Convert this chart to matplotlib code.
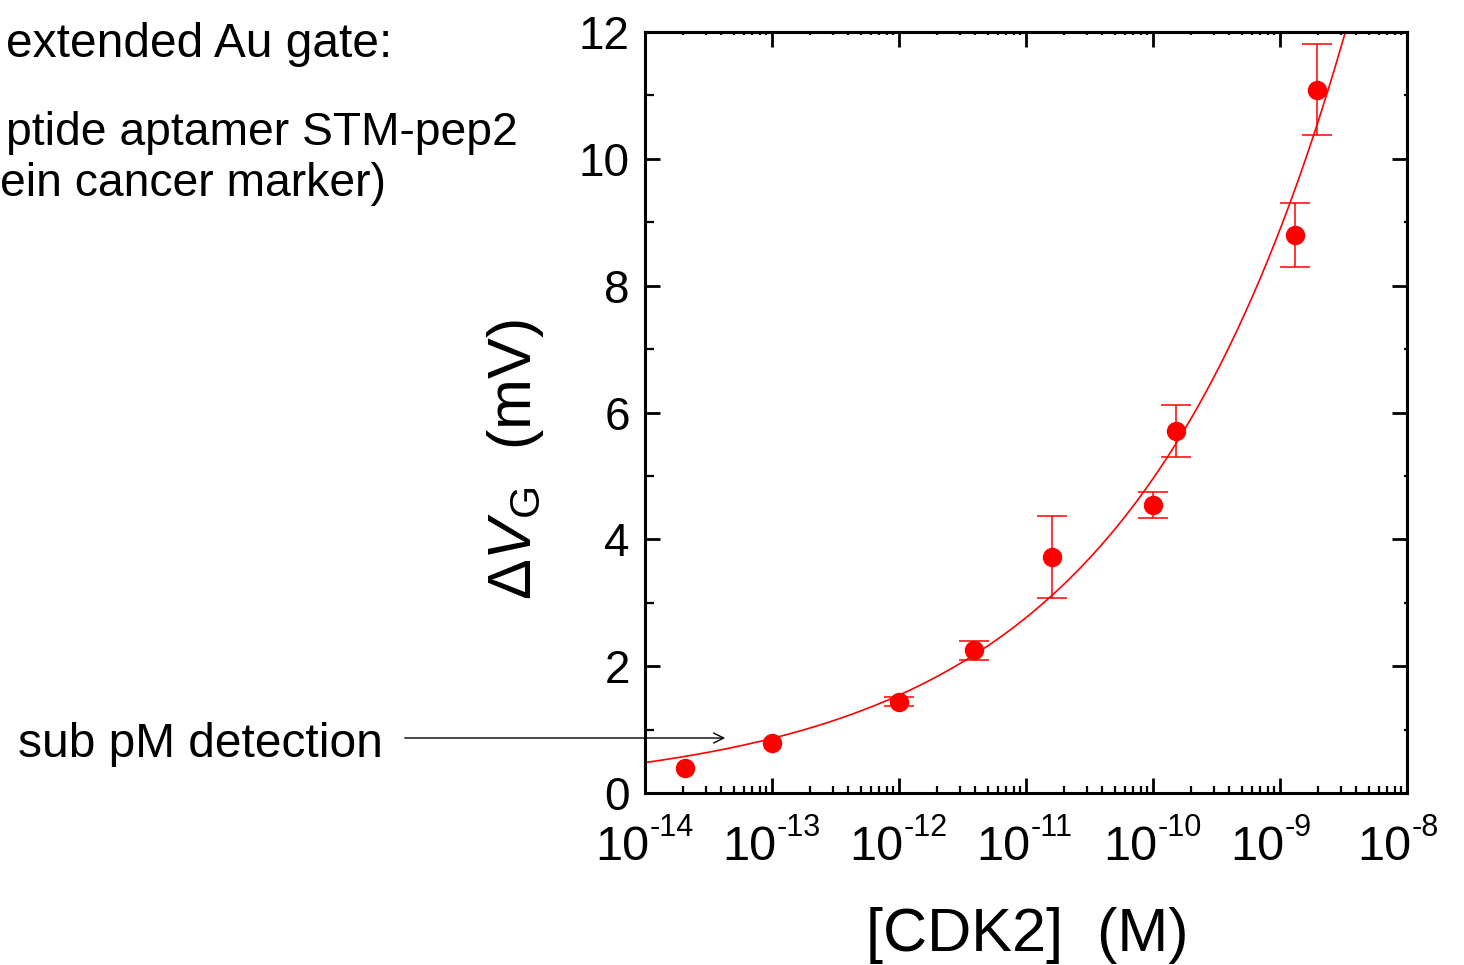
import numpy as np
import matplotlib
matplotlib.use("Agg")
import matplotlib.pyplot as plt
import matplotlib.transforms as mtrans
from matplotlib.ticker import FixedLocator, MultipleLocator, LogLocator, NullFormatter

plt.rcParams["font.family"] = ["Liberation Sans", "DejaVu Sans"]
plt.rcParams["mathtext.fontset"] = "custom"
plt.rcParams["mathtext.rm"] = "Liberation Sans"
plt.rcParams["mathtext.it"] = "Liberation Sans:italic"
plt.rcParams["mathtext.bf"] = "Liberation Sans:bold"

# measured points: [CDK2] (M), delta V_G (mV), error (mV)
conc = np.array([2.07e-14, 1.0e-13, 1.0e-12, 3.9e-12, 1.6e-11, 1.0e-10, 1.52e-10, 1.31e-9, 1.94e-9])
dvg = np.array([0.39, 0.79, 1.44, 2.25, 3.72, 4.54, 5.71, 8.80, 11.09])
dvg_err = np.array([0.0, 0.0, 0.075, 0.15, 0.65, 0.21, 0.41, 0.50, 0.72])

# power-law fit
fit_a = 0.48      # mV at 1e-14 M
fit_n = 0.2535
fit_x0 = 1e-14

xtick_exp = [-14, -13, -12, -11, -10, -9, -8]
ytick_pos = [0, 2, 4, 6, 8, 10, 12]

W, H = 1464, 965
fig = plt.figure(figsize=(W / 100, H / 100), dpi=100)
ax = fig.add_axes([645 / W, 1 - 793 / H, (1407 - 645) / W, (793 - 32) / H])

xf = np.logspace(-14, -8, 600)
ax.plot(xf, fit_a * (xf / fit_x0) ** fit_n, color="red", lw=1.2, zorder=2)

has_err = dvg_err > 0
ax.errorbar(conc[has_err], dvg[has_err], yerr=dvg_err[has_err], fmt="none",
            ecolor="red", elinewidth=1.1, capsize=11, capthick=1.1, zorder=3)
ax.plot(conc, dvg, "o", color="red", ms=13, mec="red", zorder=4)

ax.set_xscale("log")
ax.set_xlim(1e-14, 1e-8)
ax.set_ylim(0, 12)

xtick_pos = [10.0 ** e for e in xtick_exp]
ax.xaxis.set_major_locator(FixedLocator(xtick_pos))
ax.xaxis.set_major_formatter(NullFormatter())
ax.xaxis.set_minor_locator(LogLocator(base=10, subs=np.arange(2, 10), numticks=20))
ax.xaxis.set_minor_formatter(NullFormatter())
ax.yaxis.set_major_locator(FixedLocator(ytick_pos))
ax.yaxis.set_minor_locator(MultipleLocator(1))

for sp in ax.spines.values():
    sp.set_linewidth(2.2)

ax.tick_params(which="both", direction="in", top=False, right=False, labelsize=33, width=2)
ax.tick_params(axis="x", which="major", length=11)
ax.tick_params(axis="x", which="minor", length=5, width=1.6)
ax.tick_params(axis="y", which="major", length=11, pad=11)
ax.tick_params(axis="y", which="minor", length=6.5, width=1.6)

# x tick labels as 10 with a small raised exponent
blend = mtrans.blended_transform_factory(ax.transData, ax.transAxes)
base_tr = blend + mtrans.ScaledTranslation(4 / 100, -67 / 100, fig.dpi_scale_trans)
sup_tr = blend + mtrans.ScaledTranslation(5 / 100, -43 / 100, fig.dpi_scale_trans)
for xp, e in zip(xtick_pos, xtick_exp):
    ax.text(xp, 0, "10", transform=base_tr, fontsize=35, ha="right", va="baseline", clip_on=False)
    ax.text(xp, 0, str(e), transform=sup_tr, fontsize=22, ha="left", va="baseline", clip_on=False)

secx = ax.secondary_xaxis("top")
secx.xaxis.set_major_locator(FixedLocator(xtick_pos))
secx.xaxis.set_minor_locator(LogLocator(base=10, subs=np.arange(2, 10), numticks=20))
secx.xaxis.set_major_formatter(NullFormatter())
secx.xaxis.set_minor_formatter(NullFormatter())
secx.tick_params(which="both", direction="in", width=2)
secx.tick_params(which="major", length=11)
secx.tick_params(which="minor", length=2.2, width=1.6)
secx.spines["top"].set_linewidth(2.2)

secy = ax.secondary_yaxis("right")
secy.yaxis.set_major_locator(FixedLocator(ytick_pos))
secy.yaxis.set_minor_locator(MultipleLocator(1))
secy.yaxis.set_major_formatter(NullFormatter())
secy.tick_params(which="both", direction="in", width=2)
secy.tick_params(which="major", length=11)
secy.tick_params(which="minor", length=2.2, width=1.6)
secy.spines["right"].set_linewidth(2.2)

fig.text(1027 / W, 1 - 951 / H, "[CDK2]  (M)", fontsize=44, ha="center", va="baseline")
fig.text(515 / W, 1 - 460 / H, r"$\Delta \mathit{V}_{\mathrm{G}}$  (mV)", fontsize=44,
         rotation=90, ha="center", va="center")

fig.text(392 / W, 1 - 57 / H, "extended Au gate:", fontsize=34.5, ha="right", va="baseline")
fig.text(518 / W, 1 - 145 / H, "ptide aptamer STM-pep2", fontsize=33.3, ha="right", va="baseline")
fig.text(386 / W, 1 - 196 / H, "ein cancer marker)", fontsize=33.3, ha="right", va="baseline")
fig.text(18 / W, 1 - 757 / H, "sub pM detection", fontsize=34.5, ha="left", va="baseline")

ax.annotate("", xy=(4.5e-14, 0.867), xycoords="data",
            xytext=(402 / W, 1 - 738 / H), textcoords="figure fraction",
            arrowprops=dict(arrowstyle="->", color="black", lw=1, mutation_scale=18),
            annotation_clip=False)

fig.savefig("out.png", dpi=100)
